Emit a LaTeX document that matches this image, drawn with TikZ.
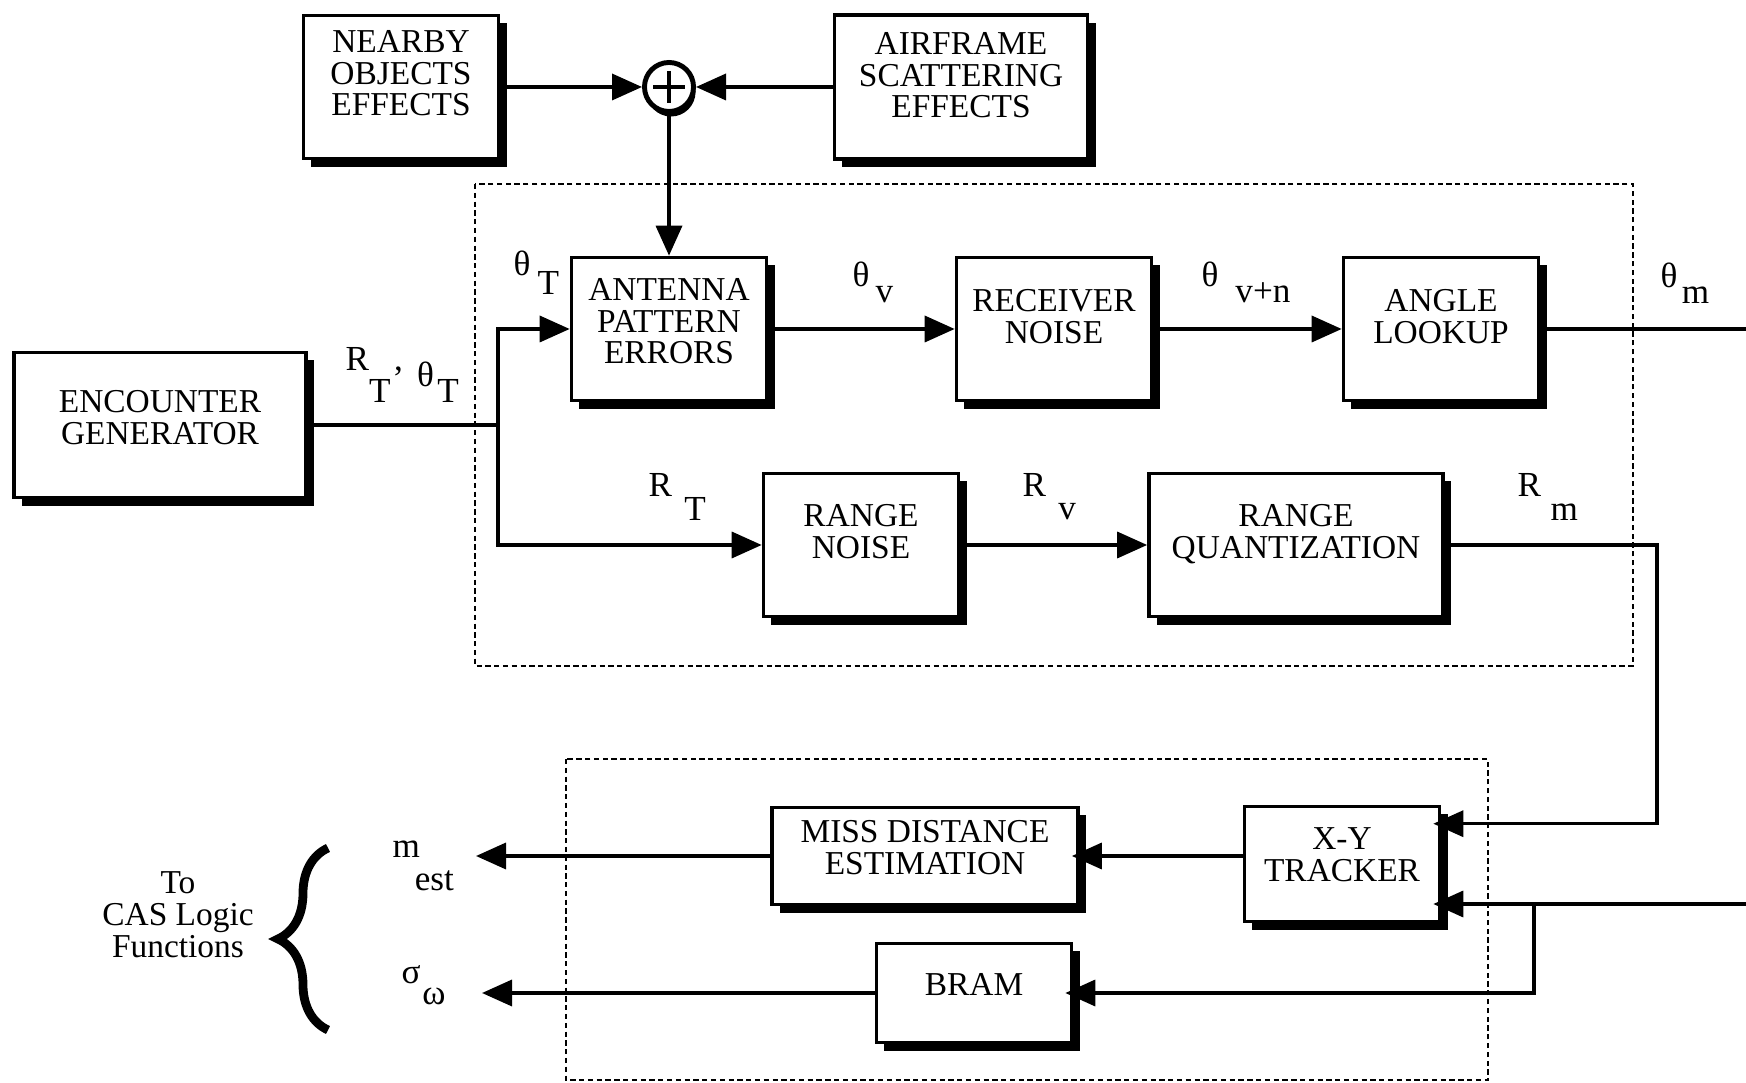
\documentclass[tikz,border=0pt]{standalone}
\usepackage{fontspec}
\setmainfont{Liberation Serif}
\usetikzlibrary{arrows.meta,calc,shadows,decorations.pathreplacing}

\newcommand{\blktext}[2][0.05cm]{\raisebox{#1}[\height][\depth]{\begin{tabular}{@{}c@{}}#2\end{tabular}}}
\newcommand{\sublbl}[4]{#1\hspace{#3}\raisebox{-#4}{#2}}

\begin{document}
\begin{tikzpicture}[x=0.01cm, y=-0.01cm, >={Triangle[length=0.3cm, width=0.26cm]},
    blk/.style={draw, line width=1pt, fill=white, inner sep=0pt,
        minimum width=1.95cm, minimum height=1.43cm,
        font=\fontsize{9.5}{9}\selectfont,
        drop shadow={shadow xshift=0.08cm, shadow yshift=-0.08cm, fill=black, opacity=1}},
    wire/.style={line width=1pt},
    grp/.style={line width=0.8pt, dash pattern=on 1.5pt off 1pt},
    lbl/.style={font=\fontsize{10}{10}\selectfont, inner sep=0pt, anchor=base west}]

    % Canvas
    \useasboundingbox (0,0) rectangle (1746,1083);

    % Dashed groups
    \draw[grp] (475,184) rectangle (1633,666);
    \draw[grp] (566,759) rectangle (1488,1080);

    % Disturbances and summing junction
    \node[blk] (near) at (401,87) {\blktext[0.09cm]{NEARBY\\OBJECTS\\EFFECTS}};
    \node[blk, minimum width=2.53cm, minimum height=1.44cm] (air) at (961,87) {\blktext[0.07cm]{AIRFRAME\\SCATTERING\\EFFECTS}};
    \node[circle, draw, line width=1.4pt, fill=white, minimum size=0.49cm, inner sep=0pt,
        drop shadow={shadow xshift=0.02cm, shadow yshift=-0.05cm, fill=black, opacity=1}] (sum) at (669,87) {};
    \draw[line width=1pt] ($(sum.center)+(-16,0)$) -- ($(sum.center)+(16,0)$)
        ($(sum.center)+(0,-16)$) -- ($(sum.center)+(0,16)$);

    % Sensor chain
    \node[blk, minimum width=2.92cm, minimum height=1.45cm] (enc) at (160,425) {\blktext[0.03cm]{ENCOUNTER\\GENERATOR}};
    \node[blk] (ant) at (669,329) {\blktext[0.03cm]{ANTENNA\\PATTERN\\ERRORS}};
    \node[blk] (rcv) at (1054,329) {\blktext[0.08cm]{RECEIVER\\NOISE}};
    \node[blk] (ang) at (1441,329) {\blktext[0.08cm]{ANGLE\\LOOKUP}};
    \node[blk] (rng) at (861,545) {\blktext[0.09cm]{RANGE\\NOISE}};
    \node[blk, minimum width=2.94cm] (rqz) at (1296,545) {\blktext[0.09cm]{RANGE\\QUANTIZATION}};

    % Tracker and outputs
    \node[blk, minimum height=1.15cm] (trk) at (1342,864) {\blktext{X-Y\\TRACKER}};
    \node[blk, minimum width=3.06cm, minimum height=0.97cm] (mde) at (925,856) {\blktext[0.04cm]{MISS DISTANCE\\ESTIMATION}};
    \node[blk, minimum height=0.99cm] (bram) at (974,993) {\blktext[0.04cm]{BRAM}};

    % Connectors
    \coordinate (split) at (498,425);
    \draw[wire] (enc.east) -- (split);
    \draw[wire, ->] (split) |- (ant.west);
    \draw[wire, ->] (split) |- (rng.west);
    \draw[wire, ->] (near.east) -- (sum.west);
    \draw[wire, ->] (air.west) -- (sum.east);
    \draw[wire, ->] (sum.south) -- (ant.north);
    \draw[wire, ->] (ant.east) -- (rcv.west);
    \draw[wire, ->] (rcv.east) -- (ang.west);
    \coordinate (thetaout) at (1746,329);
    \draw[wire] (ang.east) -- (thetaout);
    \draw[wire, ->] (rng.east) -- (rqz.west);
    \coordinate (rmturn) at (1657,545);
    \draw[wire, ->, shorten >=-0.08cm] (rqz.east) -- (rmturn) |- ($(trk.north east)+(0,19)$);
    \coordinate (thetain) at (1746,904);
    \coordinate (brk) at (1534,904);
    \draw[wire, ->, shorten >=-0.08cm] (thetain) -- (trk.east |- thetain);
    \draw[wire, ->, shorten >=-0.08cm] (brk) |- (bram.east);
    \draw[wire, ->, shorten >=-0.08cm] (trk.west |- mde.east) -- (mde.east);
    \coordinate (mout) at (476,856);
    \coordinate (sout) at (482,993);
    \draw[wire, ->] (mde.west) -- (mout);
    \draw[wire, ->] (bram.west) -- (sout);

    % Signal labels
    \node[lbl] (thT) at (513,276) {\sublbl{θ}{T}{2pt}{5.4pt}};
    \node[lbl] (rtht) at (345,371) {R\raisebox{-9pt}{T}\hspace{1pt},\hspace{4pt}\raisebox{-4.3pt}{θ\hspace{1pt}\raisebox{-4.8pt}{T}}};
    \node[lbl] (thv) at (852,287) {\sublbl{θ}{v}{1.7pt}{4.5pt}};
    \node[lbl] (thvn) at (1201,287) {\sublbl{θ}{v+n}{4.8pt}{4.5pt}};
    \node[lbl] (thm) at (1660,288) {\sublbl{θ}{m}{1.2pt}{4.5pt}};
    \node[lbl] (rT) at (648,497) {\sublbl{R}{T}{3.5pt}{6.8pt}};
    \node[lbl] (rv) at (1022,497) {\sublbl{R}{v}{3.5pt}{6.5pt}};
    \node[lbl] (rm) at (1517,497) {\sublbl{R}{m}{2.7pt}{6.8pt}};
    \node[lbl] (mest) at (392,857) {\sublbl{m}{est}{-1.5pt}{9.6pt}};
    \node[lbl] (sgw) at (401,983) {\sublbl{σ}{ω}{0.5pt}{6.2pt}};

    % Output destination
    \draw[line width=2.5pt, decorate, decoration={brace, amplitude=0.5cm}] (328,1030) -- (328,848);
    \node[align=center, font=\fontsize{9.5}{9.1}\selectfont] (cas) at (178,915) {To\\CAS Logic\\Functions};
\end{tikzpicture}
\end{document}
